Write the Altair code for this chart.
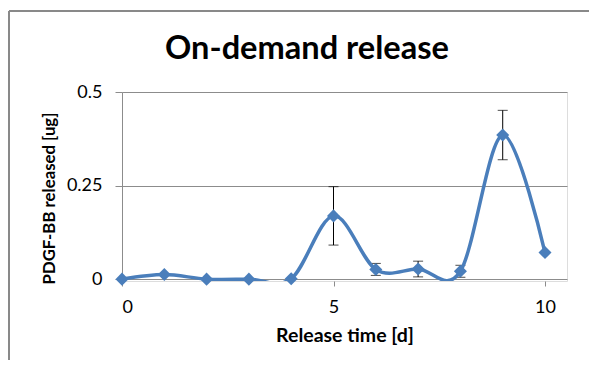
import altair as alt
import pandas as pd

days = [0, 1, 2, 3, 4, 5, 6, 7, 8, 9, 10]
released = [0.0, 0.0125, 0.0, 0.0, 0.001, 0.169, 0.026, 0.027, 0.021, 0.385, 0.071]
errors = [0.0, 0.0, 0.0, 0.0, 0.0, 0.078, 0.016, 0.021, 0.016, 0.066, 0.0]
y_ticks = [0, 0.25, 0.5]
x_ticks = [0, 5, 10]
chart_title = "On-demand release"

df = pd.DataFrame({"day": days, "rel": released, "err": errors})
df["lo"] = df["rel"] - df["err"]
df["hi"] = df["rel"] + df["err"]

FONT = "Lato"
BLUE = "#4a7ebb"
GRID = "#8c8c8c"

x = alt.X("day:Q", scale=alt.Scale(domain=[0, 10.52], nice=False, zero=False),
          axis=alt.Axis(values=x_ticks, title="Release time [d]", grid=False, domain=False,
                        tickColor=GRID, tickSize=5, labelFontSize=18, labelFont=FONT,
                        labelColor="#000", labelPadding=12, titleFont=FONT, titleFontSize=19.5,
                        titleFontWeight="bold", titleColor="#000", titlePadding=10))
y = alt.Y("rel:Q", scale=alt.Scale(domain=[-0.005, 0.5], nice=False, zero=False),
          axis=alt.Axis(values=y_ticks, format=".2~f", title="PDGF-BB released [ug]", grid=True,
                        gridColor=GRID, gridWidth=1, domainColor=GRID, tickColor=GRID,
                        tickSize=7, labelFontSize=18, labelFont=FONT, labelColor="#000",
                        labelPadding=13, titleFont=FONT, titleFontSize=16.8,
                        titleFontWeight="bold", titleColor="#000", titlePadding=8,
                        titleY=106))

base = alt.Chart(df)

err_rule = base.transform_filter("datum.err > 0").mark_rule(color="#000", strokeWidth=1).encode(
    x=x, y=alt.Y("lo:Q"), y2="hi:Q")
err_cap_hi = base.transform_filter("datum.err > 0").mark_tick(
    color="#000", orient="horizontal", size=10, thickness=1).encode(x=x, y=alt.Y("hi:Q"))
err_cap_lo = base.transform_filter("datum.err > 0").mark_tick(
    color="#000", orient="horizontal", size=10, thickness=1).encode(x=x, y=alt.Y("lo:Q"))

line = base.mark_line(color=BLUE, strokeWidth=3.5, interpolate="cardinal", clip=True).encode(x=x, y=y)
pts = base.mark_point(shape="diamond", filled=True, size=170, color=BLUE, opacity=1).encode(x=x, y=y)

one = alt.Data(values=[{"t": chart_title}])
title_mark = alt.Chart(one).mark_text(font=FONT, fontSize=32.6, fontWeight="bold", color="#000",
                                      align="center", baseline="alphabetic").encode(
    text="t:N", x=alt.value(185), y=alt.value(-33))
border_top = alt.Chart(one).mark_rule(color="#898989", strokeWidth=2).encode(
    x=alt.value(-113), x2=alt.value(470), y=alt.value(-81))
border_left = alt.Chart(one).mark_rule(color="#898989", strokeWidth=2).encode(
    x=alt.value(-113), y=alt.value(-81), y2=alt.value(270))

chart = alt.layer(err_rule, err_cap_hi, err_cap_lo, line, pts, title_mark, border_top, border_left).properties(
    width=445, height=189,
    autosize=alt.AutoSizeParams(type="none"),
    padding={"left": 114, "top": 84, "right": 22, "bottom": 79},
).configure_view(stroke=None).configure(background="white")

chart.save("out.html", embed_options={"renderer": "svg", "actions": False})
